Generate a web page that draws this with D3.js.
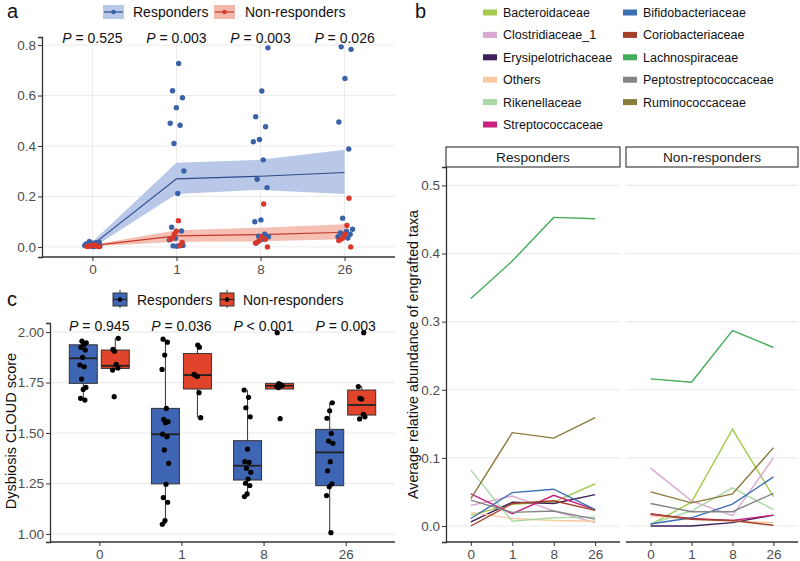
<!DOCTYPE html>
<html><head><meta charset="utf-8">
<script src="https://cdn.jsdelivr.net/npm/d3@7/dist/d3.min.js"></script>
<style>body{margin:0;background:#fff} text{font-family:"Liberation Sans",Arial,Helvetica,sans-serif}</style>
</head><body><svg id="chart" width="800" height="561"></svg>
<script>
// ---------- shared ----------
const weeks = ["0","1","8","26"];
const groups = ["Responders","Non-responders"];

// ---------- panel a data ----------
const aRespPoints = [
  [0.022,0.018,0.015,0.012,0.010,0.008,0.006,0.005,0.004,0.003,0.002,0.012,0.017,0.007,0.003,0.001,0.009],
  [0.727,0.619,0.591,0.552,0.490,0.482,0.410,0.301,0.212,0.078,0.063,0.034,0.028,0.005,0.004,0.006,0.003],
  [0.789,0.618,0.516,0.476,0.426,0.417,0.345,0.268,0.235,0.107,0.100,0.050,0.042,0.040,0.030,0.015],
  [0.793,0.783,0.668,0.495,0.388,0.114,0.070,0.062,0.055,0.050,0.045,0.040,0.035]
];
const aNonPoints = [
  [0.008,0.005,0.003,0.002,0.001,0.004,0.006],
  [0.104,0.062,0.050,0.035,0.030,0.018,0.005],
  [0.170,0.040,0.025,0.020,0.015,0.000,0.030],
  [0.193,0.085,0.050,0.035,0.030,0.025,0.000]
];
const aRespMean = [0.008,0.270,0.280,0.295];
const aRespLow  = [-0.004,0.210,0.226,0.210];
const aRespHigh = [0.020,0.334,0.345,0.385];
const aNonMean  = [0.005,0.044,0.049,0.058];
const aNonLow   = [0.002,0.020,0.022,0.030];
const aNonHigh  = [0.009,0.066,0.076,0.090];
const aPvals = ["= 0.525","= 0.003","= 0.003","= 0.026"];
const aYTicks = [0,0.2,0.4,0.6,0.8];

// ---------- panel c data ----------
const cRespPoints = [
  [1.955,1.947,1.936,1.924,1.911,1.875,1.837,1.828,1.767,1.726,1.716,1.672,1.663],
  [1.965,1.950,1.886,1.815,1.622,1.568,1.556,1.551,1.494,1.482,1.416,1.350,1.246,1.180,1.157,1.066,1.048],
  [1.713,1.677,1.625,1.580,1.420,1.358,1.355,1.325,1.305,1.272,1.251,1.240,1.198,1.185],
  [1.650,1.610,1.573,1.498,1.460,1.449,1.358,1.313,1.248,1.234,1.190,1.006]
];
const cNonPoints = [
  [1.969,1.914,1.905,1.840,1.822,1.812,1.680],
  [1.936,1.925,1.790,1.785,1.780,1.700,1.576],
  [1.997,1.745,1.740,1.735,1.730,1.725,1.571],
  [1.997,1.730,1.672,1.668,1.593,1.580,1.570]
];
// q1, median, q3, whisker low, whisker high
const cRespBox = [
  [1.746,1.870,1.937,1.663,1.955],
  [1.248,1.494,1.622,1.048,1.965],
  [1.267,1.338,1.462,1.185,1.713],
  [1.239,1.404,1.518,1.006,1.650]
];
const cNonBox = [
  [1.820,1.833,1.911,1.812,1.969],
  [1.718,1.787,1.894,1.576,1.936],
  [1.718,1.734,1.746,1.718,1.746],
  [1.589,1.639,1.713,1.570,1.733]
];
const cPvals = ["= 0.945","= 0.036","< 0.001","= 0.003"];
const cYTicks = [1.00,1.25,1.50,1.75,2.00];

// ---------- panel b data ----------
const families = ["Bacteroidaceae","Clostridiaceae_1","Erysipelotrichaceae","Others","Rikenellaceae","Streptococcaceae",
                  "Bifidobacteriaceae","Coriobacteriaceae","Lachnospiraceae","Peptostreptococcaceae","Ruminococcaceae"];
const familyColors = ["#a5cc4e","#d9a9cf","#3d1f5c","#f8caa0","#a9d9a6","#c8217f",
                      "#3b71b3","#a4402a","#43ad5a","#858585","#8a7a3c"];
const bResp = {
  "Bacteroidaceae":[0.016,0.032,0.035,0.062],
  "Clostridiaceae_1":[0.030,0.044,0.022,0.005],
  "Erysipelotrichaceae":[0.006,0.035,0.033,0.046],
  "Others":[0.020,0.011,0.008,0.007],
  "Rikenellaceae":[0.082,0.007,0.012,0.013],
  "Streptococcaceae":[0.047,0.018,0.045,0.024],
  "Bifidobacteriaceae":[0.011,0.049,0.054,0.024],
  "Coriobacteriaceae":[0.000,0.033,0.037,0.023],
  "Lachnospiraceae":[0.334,0.389,0.453,0.451],
  "Peptostreptococcaceae":[0.038,0.020,0.022,0.010],
  "Ruminococcaceae":[0.040,0.137,0.129,0.159]
};
const bNon = {
  "Bacteroidaceae":[0.002,0.035,0.142,0.043],
  "Clostridiaceae_1":[0.085,0.037,0.015,0.100],
  "Erysipelotrichaceae":[0.000,0.000,0.005,0.016],
  "Others":[0.015,0.010,0.007,0.005],
  "Rikenellaceae":[0.003,0.022,0.056,0.024],
  "Streptococcaceae":[0.017,0.011,0.008,0.016],
  "Bifidobacteriaceae":[0.003,0.012,0.032,0.072],
  "Coriobacteriaceae":[0.018,0.010,0.008,0.001],
  "Lachnospiraceae":[0.216,0.211,0.287,0.262],
  "Peptostreptococcaceae":[0.033,0.021,0.021,0.048],
  "Ruminococcaceae":[0.050,0.034,0.047,0.115]
};
const bYTicks = [0,0.1,0.2,0.3,0.4,0.5];

// ---------- styles ----------
const BLUE = "#3a62a8", RED = "#d8392b";
const BLUE_RIB = "#b9c8e8", RED_RIB = "#f4b8ab";
const BLUE_LINE = "#2d4b8c", RED_LINE = "#c43a2b";
const BOX_BLUE = "#3f66b4", BOX_RED = "#e0452c";
const GRID = "#ebebeb", AX = "#333", TXT = "#4d4d4d";

const svg = d3.select("#chart");
const jit = (i, w) => (((i * 0.6180339887 + 0.31) % 1) - 0.5) * 2 * w;

function yAxis(g, scale, ticks, x, fmt, size) {
  const ax = d3.axisLeft(scale).tickValues(ticks).tickFormat(fmt).tickSize(4).tickPadding(2);
  const gg = g.append("g").attr("transform", `translate(${x},0)`).call(ax);
  gg.select(".domain").attr("stroke", AX).attr("stroke-width", 1.3);
  gg.selectAll(".tick line").attr("stroke", AX);
  gg.selectAll(".tick text").attr("fill", TXT).style("font-size", size + "px").style("font-family", "Liberation Sans, Arial, sans-serif");
  return gg;
}
function xAxis(g, scale, y, size) {
  const ax = d3.axisBottom(scale).tickSize(4).tickPadding(3);
  const gg = g.append("g").attr("transform", `translate(0,${y})`).call(ax);
  gg.select(".domain").attr("stroke", AX).attr("stroke-width", 1.3)
    .attr("d", `M${scale.range()[0]},0H${scale.range()[1]}`);
  gg.selectAll(".tick line").attr("stroke", AX);
  gg.selectAll(".tick text").attr("fill", TXT).style("font-size", size + "px").style("font-family", "Liberation Sans, Arial, sans-serif");
  return gg;
}
function pText(g, x, y, s) {
  const t = g.append("text").attr("x", x).attr("y", y).attr("text-anchor", "middle")
    .style("font-size", "14px").attr("fill", "#111");
  t.append("tspan").style("font-style", "italic").text("P");
  t.append("tspan").text(" " + s);
}

// ================= Panel a =================
{
  const g = svg.append("g");
  const x = d3.scalePoint().domain(weeks).range([42, 395]).padding(0.6);
  const y = d3.scaleLinear().domain([-0.04, 0.832]).range([257, 37]);
  g.selectAll(".hg").data(aYTicks).join("line").attr("x1", 42).attr("x2", 395)
    .attr("y1", d => y(d)).attr("y2", d => y(d)).attr("stroke", GRID).attr("stroke-width", 1);
  g.selectAll(".vg").data(weeks).join("line").attr("y1", 37).attr("y2", 257)
    .attr("x1", d => x(d)).attr("x2", d => x(d)).attr("stroke", GRID).attr("stroke-width", 1);
  const area = (lo, hi) => d3.area().x((d, i) => x(weeks[i])).y0((d, i) => y(lo[i])).y1((d, i) => y(hi[i]))(lo);
  const line = m => d3.line().x((d, i) => x(weeks[i])).y(d => y(d))(m);
  g.append("path").attr("d", area(aRespLow, aRespHigh)).attr("fill", BLUE_RIB);
  g.append("path").attr("d", area(aNonLow, aNonHigh)).attr("fill", RED_RIB).attr("opacity", 0.9);
  g.append("path").attr("d", line(aRespMean)).attr("fill", "none").attr("stroke", BLUE_LINE).attr("stroke-width", 1.2);
  g.append("path").attr("d", line(aNonMean)).attr("fill", "none").attr("stroke", RED_LINE).attr("stroke-width", 1.2);
  weeks.forEach((w, k) => {
    g.selectAll(null).data(aRespPoints[k]).join("circle")
      .attr("cx", (d, i) => x(w) + jit(i + k * 7, 8)).attr("cy", d => y(d)).attr("r", 2.7).attr("fill", BLUE);
    g.selectAll(null).data(aNonPoints[k]).join("circle")
      .attr("cx", (d, i) => x(w) + jit(i * 3 + k * 5 + 2, 7)).attr("cy", d => y(d)).attr("r", 2.7).attr("fill", RED);
  });
  yAxis(g, y, aYTicks, 42, d3.format(".1f"), 13.5);
  xAxis(g, x, 257, 13.5);
  weeks.forEach((w, k) => pText(g, x(w), 43, aPvals[k]));
  const lg = svg.append("g");
  [[103, BLUE_RIB, BLUE_LINE, BLUE, 133], [214, RED_RIB, RED_LINE, RED, 245]].forEach((d, i) => {
    lg.append("rect").attr("x", d[0]).attr("y", 5).attr("width", 21).attr("height", 14).attr("fill", d[1]);
    lg.append("line").attr("x1", d[0] + 1).attr("x2", d[0] + 20).attr("y1", 12).attr("y2", 12).attr("stroke", d[2]).attr("stroke-width", 1.2);
    lg.append("circle").attr("cx", d[0] + 10.5).attr("cy", 12).attr("r", 2.2).attr("fill", d[3]);
    lg.append("text").attr("x", d[4]).attr("y", 17).style("font-size", "14px").attr("fill", "#111").text(groups[i]);
  });
  svg.append("text").attr("x", 7).attr("y", 18).style("font-size", "20px").attr("fill", "#111").text("a");
}

// ================= Panel c =================
{
  const g = svg.append("g");
  const x = d3.scalePoint().domain(weeks).range([50, 395]).padding(0.6);
  const y = d3.scaleLinear().domain([0.96, 2.045]).range([542, 323]);
  g.selectAll(".hg").data(cYTicks).join("line").attr("x1", 50).attr("x2", 395)
    .attr("y1", d => y(d)).attr("y2", d => y(d)).attr("stroke", GRID).attr("stroke-width", 1.2);
  const off = 16, bw = 28;
  const drawBox = (cx, b, fill) => {
    g.append("line").attr("x1", cx).attr("x2", cx).attr("y1", y(b[4])).attr("y2", y(b[2])).attr("stroke", AX).attr("stroke-width", 1);
    g.append("line").attr("x1", cx).attr("x2", cx).attr("y1", y(b[0])).attr("y2", y(b[3])).attr("stroke", AX).attr("stroke-width", 1);
    g.append("rect").attr("x", cx - bw / 2).attr("width", bw).attr("y", y(b[2])).attr("height", y(b[0]) - y(b[2]))
      .attr("fill", fill).attr("stroke", AX).attr("stroke-width", 1);
    g.append("line").attr("x1", cx - bw / 2).attr("x2", cx + bw / 2).attr("y1", y(b[1])).attr("y2", y(b[1]))
      .attr("stroke", "#222").attr("stroke-width", 1.8);
  };
  weeks.forEach((w, k) => {
    drawBox(x(w) - off, cRespBox[k], BOX_BLUE);
    drawBox(x(w) + off, cNonBox[k], BOX_RED);
  });
  weeks.forEach((w, k) => {
    g.selectAll(null).data(cRespPoints[k]).join("circle")
      .attr("cx", (d, i) => x(w) - off + jit(i + k * 3, 3.5)).attr("cy", d => y(d)).attr("r", 2.6).attr("fill", "#000");
    g.selectAll(null).data(cNonPoints[k]).join("circle")
      .attr("cx", (d, i) => x(w) + off + jit(i * 2 + k + 1, 3.5)).attr("cy", d => y(d)).attr("r", 2.6).attr("fill", "#000");
  });
  yAxis(g, y, cYTicks, 50, d3.format(".2f"), 13.5);
  xAxis(g, x, 542, 13.5);
  weeks.forEach((w, k) => pText(g, x(w), 331, cPvals[k]));
  g.append("text").attr("transform", "translate(16,431) rotate(-90)").attr("text-anchor", "middle")
    .style("font-size", "14.5px").attr("fill", "#111").text("Dysbiosis CLOUD score");
  [[113, BOX_BLUE, 137], [220, BOX_RED, 243]].forEach((d, i) => {
    g.append("line").attr("x1", d[0] + 7).attr("x2", d[0] + 7).attr("y1", 290).attr("y2", 308).attr("stroke", AX);
    g.append("rect").attr("x", d[0]).attr("y", 293).attr("width", 14).attr("height", 13).attr("fill", d[1]).attr("stroke", AX);
    g.append("line").attr("x1", d[0]).attr("x2", d[0] + 14).attr("y1", 299.5).attr("y2", 299.5).attr("stroke", "#222").attr("stroke-width", 1.2);
    g.append("circle").attr("cx", d[0] + 7).attr("cy", 299.5).attr("r", 2.2).attr("fill", "#000");
    g.append("text").attr("x", d[2]).attr("y", 305).style("font-size", "14px").attr("fill", "#111").text(groups[i]);
  });
  svg.append("text").attr("x", 7).attr("y", 306).style("font-size", "20px").attr("fill", "#111").text("c");
}

// ================= Panel b =================
{
  const g = svg.append("g");
  const y = d3.scaleLinear().domain([-0.0235, 0.527]).range([542, 167]);
  const facets = [[446, 620, bResp, groups[0]], [626, 798, bNon, groups[1]]];
  facets.forEach((f, fi) => {
    const x = d3.scalePoint().domain(weeks).range([f[0], f[1]]).padding(0.6);
    g.selectAll(null).data(bYTicks).join("line").attr("x1", f[0]).attr("x2", f[1])
      .attr("y1", d => y(d)).attr("y2", d => y(d)).attr("stroke", GRID).attr("stroke-width", 1.2);
    families.forEach((fam, j) => {
      g.append("path").attr("d", d3.line().x((d, i) => x(weeks[i])).y(d => y(d))(f[2][fam]))
        .attr("fill", "none").attr("stroke", familyColors[j]).attr("stroke-width", 1.4);
    });
    xAxis(g, x, 542, 13.5);
    g.append("rect").attr("x", f[0]).attr("y", 147).attr("width", f[1] - f[0]).attr("height", 20)
      .attr("fill", "#fff").attr("stroke", "#1a1a1a").attr("stroke-width", 1);
    g.append("text").attr("x", (f[0] + f[1]) / 2).attr("y", 162).attr("text-anchor", "middle")
      .style("font-size", "13.7px").attr("fill", "#1a1a1a").text(f[3]);
  });
  yAxis(g, y, bYTicks, 446, d3.format(".1f"), 13.5);
  g.append("text").attr("transform", "translate(418,354.5) rotate(-90)").attr("text-anchor", "middle")
    .style("font-size", "14.3px").attr("fill", "#111").text("Average relative abundance of engrafted taxa");
  families.forEach((fam, j) => {
    const col = j < 6 ? 0 : 1, row = j < 6 ? j : j - 6;
    const lx = col === 0 ? 483 : 623, ly = 12.5 + row * 22.4;
    g.append("rect").attr("x", lx).attr("y", ly - 3).attr("width", 14).attr("height", 6).attr("fill", familyColors[j]);
    g.append("text").attr("x", lx + 20).attr("y", ly + 4.5).style("font-size", "12.5px").attr("fill", "#111").text(fam);
  });
  svg.append("text").attr("x", 415).attr("y", 18).style("font-size", "20px").attr("fill", "#111").text("b");
}
</script></body></html>
